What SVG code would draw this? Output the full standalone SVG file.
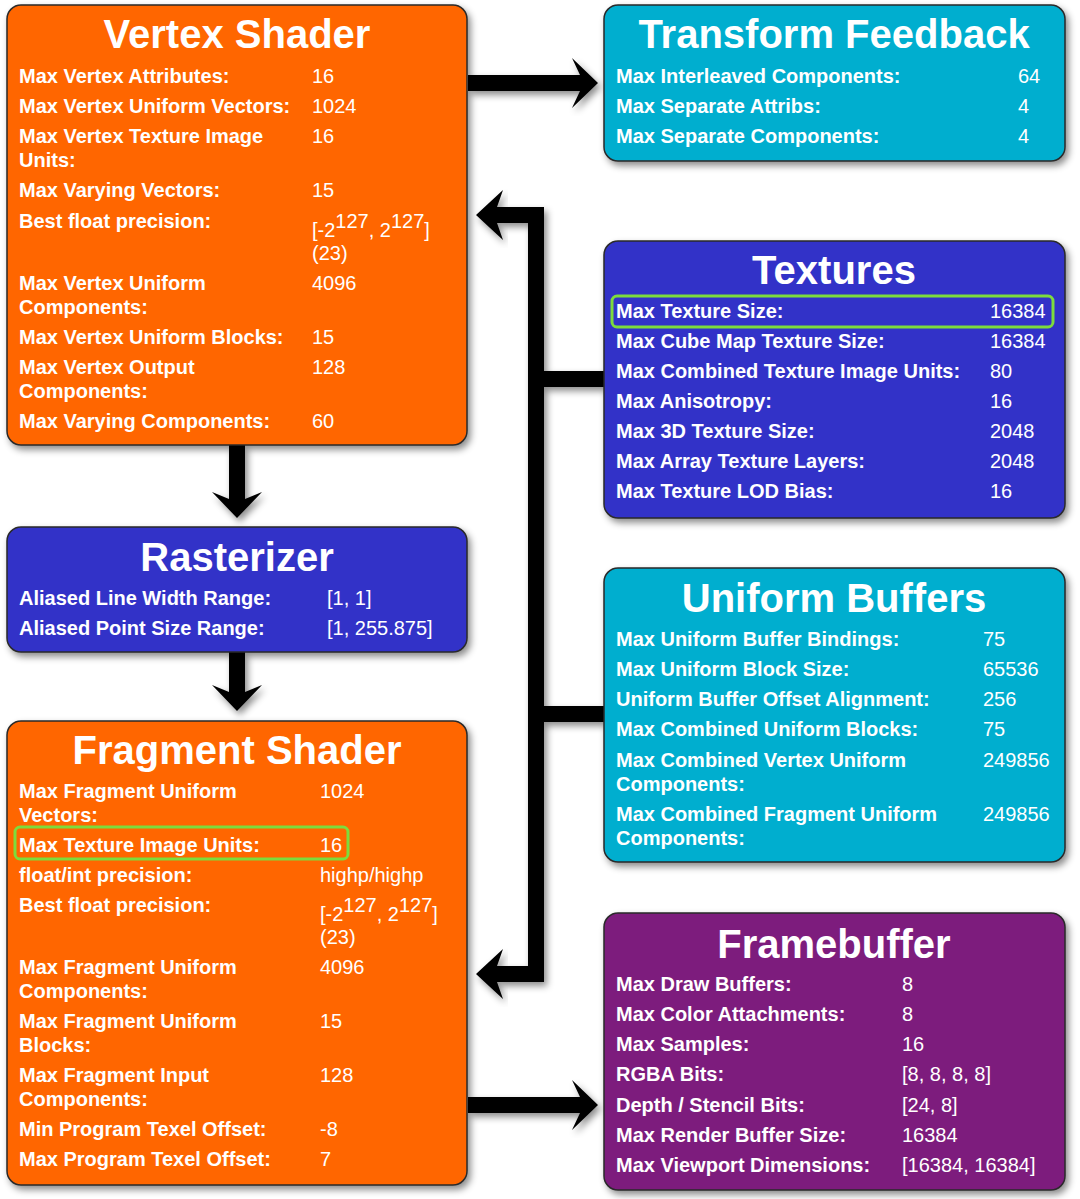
<svg xmlns="http://www.w3.org/2000/svg" width="1080" height="1199" viewBox="0 0 1080 1199">
<defs>
<filter id="sh" x="-10%" y="-10%" width="125%" height="125%">
<feDropShadow dx="3" dy="4" stdDeviation="3.5" flood-color="#000" flood-opacity="0.45"/>
</filter>
<style>
.box{stroke:#2a2a2a;stroke-width:1.5;filter:url(#sh)}
.orange{fill:#ff6600}
.blue{fill:#3232c8}
.cyan{fill:#03aecf}
.purple{fill:#7d1a7d}
.title{font-family:"Liberation Sans",Arial,sans-serif;font-weight:bold;font-size:40px;fill:#fff;text-anchor:middle}
.lb{font-family:"Liberation Sans",Arial,sans-serif;font-weight:bold;font-size:20px;fill:#fff}
.v{font-family:"Liberation Sans",Arial,sans-serif;font-size:20px;fill:#fff}
.hl{fill:none;stroke:#7ddc3c;stroke-width:3}
.arrow{fill:#000;filter:url(#sh)}
.bus{fill:none;stroke:#000;stroke-width:16;stroke-linejoin:miter;filter:url(#sh)}
</style>
</defs>
<rect width="1080" height="1199" fill="#fff"/>

<g id="connectors">
<polygon class="arrow" points="468,75 580,75 572,58 598,83 572,108 580,91 468,91"/>
<polygon class="arrow" points="229,445 245,445 245,499 262,492 237,518 212,492 229,499"/>
<polygon class="arrow" points="229,652 245,652 245,692 262,685 237,711 212,685 229,692"/>
<polygon class="arrow" points="468,1097 580,1097 572,1080 598,1105 572,1130 580,1113 468,1113"/>
<path class="bus" d="M497,215 H536 V974 H497 M536,379 H604 M536,714 H604"/>
<polygon class="arrow" points="476,215 503,190 497,207 497,223 503,240"/>
<polygon class="arrow" points="476,974 503,949 497,966 497,982 503,999"/>
</g>

<g id="vertex-shader">
<rect class="box orange" x="7" y="5" width="460" height="440" rx="14"/>
<text class="title" x="237" y="48">Vertex Shader</text>
<text class="lb" x="19" y="83">Max Vertex Attributes:</text><text class="v" x="312" y="83">16</text>
<text class="lb" x="19" y="113">Max Vertex Uniform Vectors:</text><text class="v" x="312" y="113">1024</text>
<text class="lb" x="19" y="143">Max Vertex Texture Image</text><text class="lb" x="19" y="167">Units:</text><text class="v" x="312" y="143">16</text>
<text class="lb" x="19" y="197">Max Varying Vectors:</text><text class="v" x="312" y="197">15</text>
<text class="lb" x="19" y="228">Best float precision:</text>
<text class="v" x="312" y="237">[-2<tspan dy="-9">127</tspan><tspan dy="9">, 2</tspan><tspan dy="-9">127</tspan><tspan dy="9">]</tspan></text>
<text class="v" x="312" y="260">(23)</text>
<text class="lb" x="19" y="290">Max Vertex Uniform</text><text class="lb" x="19" y="314">Components:</text><text class="v" x="312" y="290">4096</text>
<text class="lb" x="19" y="344">Max Vertex Uniform Blocks:</text><text class="v" x="312" y="344">15</text>
<text class="lb" x="19" y="374">Max Vertex Output</text><text class="lb" x="19" y="398">Components:</text><text class="v" x="312" y="374">128</text>
<text class="lb" x="19" y="428">Max Varying Components:</text><text class="v" x="312" y="428">60</text>
</g>

<g id="rasterizer">
<rect class="box blue" x="7" y="527" width="460" height="125" rx="14"/>
<text class="title" x="237" y="571">Rasterizer</text>
<text class="lb" x="19" y="605">Aliased Line Width Range:</text><text class="v" x="327" y="605">[1, 1]</text>
<text class="lb" x="19" y="635">Aliased Point Size Range:</text><text class="v" x="327" y="635">[1, 255.875]</text>
</g>

<g id="fragment-shader">
<rect class="box orange" x="7" y="721" width="460" height="464" rx="14"/>
<text class="title" x="237" y="764">Fragment Shader</text>
<text class="lb" x="19" y="798">Max Fragment Uniform</text><text class="lb" x="19" y="822">Vectors:</text><text class="v" x="320" y="798">1024</text>
<rect class="hl" x="15" y="827" width="333" height="32" rx="5"/>
<text class="lb" x="19" y="852">Max Texture Image Units:</text><text class="v" x="320" y="852">16</text>
<text class="lb" x="19" y="882">float/int precision:</text><text class="v" x="320" y="882">highp/highp</text>
<text class="lb" x="19" y="912">Best float precision:</text>
<text class="v" x="320" y="921">[-2<tspan dy="-9">127</tspan><tspan dy="9">, 2</tspan><tspan dy="-9">127</tspan><tspan dy="9">]</tspan></text>
<text class="v" x="320" y="944">(23)</text>
<text class="lb" x="19" y="974">Max Fragment Uniform</text><text class="lb" x="19" y="998">Components:</text><text class="v" x="320" y="974">4096</text>
<text class="lb" x="19" y="1028">Max Fragment Uniform</text><text class="lb" x="19" y="1052">Blocks:</text><text class="v" x="320" y="1028">15</text>
<text class="lb" x="19" y="1082">Max Fragment Input</text><text class="lb" x="19" y="1106">Components:</text><text class="v" x="320" y="1082">128</text>
<text class="lb" x="19" y="1136">Min Program Texel Offset:</text><text class="v" x="320" y="1136">-8</text>
<text class="lb" x="19" y="1166">Max Program Texel Offset:</text><text class="v" x="320" y="1166">7</text>
</g>

<g id="transform-feedback">
<rect class="box cyan" x="604" y="5" width="461" height="156" rx="14"/>
<text class="title" x="834" y="48">Transform Feedback</text>
<text class="lb" x="616" y="83">Max Interleaved Components:</text><text class="v" x="1018" y="83">64</text>
<text class="lb" x="616" y="113">Max Separate Attribs:</text><text class="v" x="1018" y="113">4</text>
<text class="lb" x="616" y="143">Max Separate Components:</text><text class="v" x="1018" y="143">4</text>
</g>

<g id="textures">
<rect class="box blue" x="604" y="241" width="461" height="277" rx="14"/>
<text class="title" x="834" y="284">Textures</text>
<rect class="hl" x="612" y="296" width="441" height="31" rx="5"/>
<text class="lb" x="616" y="318">Max Texture Size:</text><text class="v" x="990" y="318">16384</text>
<text class="lb" x="616" y="348">Max Cube Map Texture Size:</text><text class="v" x="990" y="348">16384</text>
<text class="lb" x="616" y="378">Max Combined Texture Image Units:</text><text class="v" x="990" y="378">80</text>
<text class="lb" x="616" y="408">Max Anisotropy:</text><text class="v" x="990" y="408">16</text>
<text class="lb" x="616" y="438">Max 3D Texture Size:</text><text class="v" x="990" y="438">2048</text>
<text class="lb" x="616" y="468">Max Array Texture Layers:</text><text class="v" x="990" y="468">2048</text>
<text class="lb" x="616" y="498">Max Texture LOD Bias:</text><text class="v" x="990" y="498">16</text>
</g>

<g id="uniform-buffers">
<rect class="box cyan" x="604" y="568" width="461" height="294" rx="14"/>
<text class="title" x="834" y="612">Uniform Buffers</text>
<text class="lb" x="616" y="646">Max Uniform Buffer Bindings:</text><text class="v" x="983" y="646">75</text>
<text class="lb" x="616" y="676">Max Uniform Block Size:</text><text class="v" x="983" y="676">65536</text>
<text class="lb" x="616" y="706">Uniform Buffer Offset Alignment:</text><text class="v" x="983" y="706">256</text>
<text class="lb" x="616" y="736">Max Combined Uniform Blocks:</text><text class="v" x="983" y="736">75</text>
<text class="lb" x="616" y="767">Max Combined Vertex Uniform</text><text class="lb" x="616" y="791">Components:</text><text class="v" x="983" y="767">249856</text>
<text class="lb" x="616" y="821">Max Combined Fragment Uniform</text><text class="lb" x="616" y="845">Components:</text><text class="v" x="983" y="821">249856</text>
</g>

<g id="framebuffer">
<rect class="box purple" x="604" y="913" width="461" height="277" rx="14"/>
<text class="title" x="834" y="958">Framebuffer</text>
<text class="lb" x="616" y="991">Max Draw Buffers:</text><text class="v" x="902" y="991">8</text>
<text class="lb" x="616" y="1021">Max Color Attachments:</text><text class="v" x="902" y="1021">8</text>
<text class="lb" x="616" y="1051">Max Samples:</text><text class="v" x="902" y="1051">16</text>
<text class="lb" x="616" y="1081">RGBA Bits:</text><text class="v" x="902" y="1081">[8, 8, 8, 8]</text>
<text class="lb" x="616" y="1112">Depth / Stencil Bits:</text><text class="v" x="902" y="1112">[24, 8]</text>
<text class="lb" x="616" y="1142">Max Render Buffer Size:</text><text class="v" x="902" y="1142">16384</text>
<text class="lb" x="616" y="1172">Max Viewport Dimensions:</text><text class="v" x="902" y="1172">[16384, 16384]</text>
</g>
</svg>
